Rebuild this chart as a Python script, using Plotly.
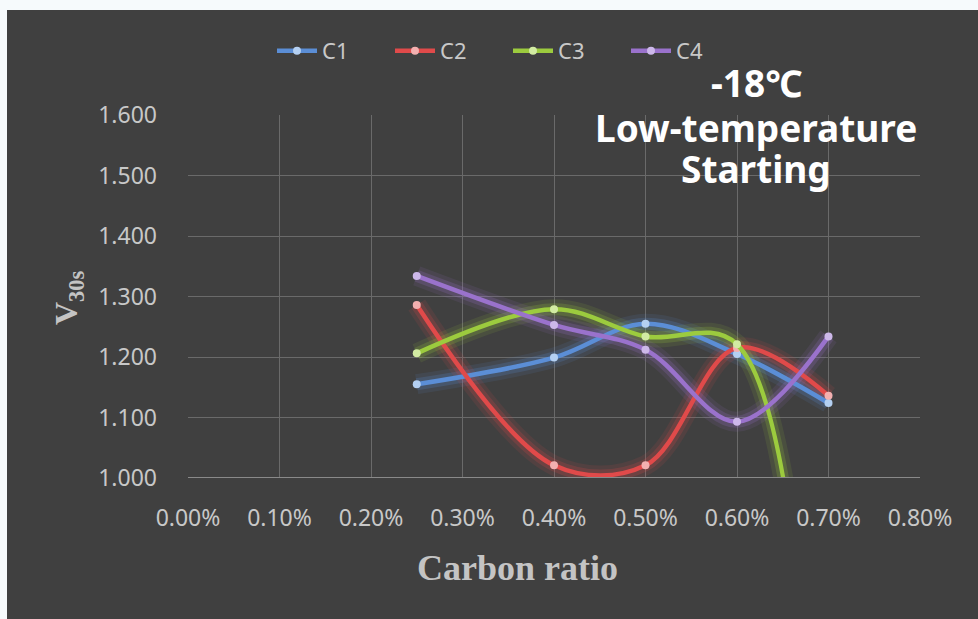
import plotly.graph_objects as go

# Carbon ratio (fraction) and 30 s voltage for each formulation
carbon_ratio = [0.0025, 0.004, 0.005, 0.006, 0.007]
c1 = [1.155, 1.199, 1.255, 1.205, 1.124]
c2 = [1.286, 1.021, 1.021, 1.215, 1.136]
c3 = [1.206, 1.279, 1.234, 1.221, 0.0]
c4 = [1.334, 1.253, 1.212, 1.093, 1.234]

series_names = ["C1", "C2", "C3", "C4"]
series_values = [c1, c2, c3, c4]
line_colors = ["#5b8ed6", "#e04a4a", "#9ccb3e", "#9a72cc"]
marker_colors = ["#b4d0f2", "#f3b0b0", "#d2eba2", "#cdb8ea"]

y_ticks = [1.0, 1.1, 1.2, 1.3, 1.4, 1.5, 1.6]
x_ticks = [0.0, 0.001, 0.002, 0.003, 0.004, 0.005, 0.006, 0.007, 0.008]

BG = "#404040"
TICK = "#c8c8c8"

# plot-area geometry in pixels (used to place paper-anchored items)
W, H = 978, 619
ML, MR, MT, MB = 188, 58, 115, 141
PW, PH = W - ML - MR, H - MT - MB


def px_x(px):
    return (px - ML) / PW


def px_y(py):
    return (H - MB - py) / PH


fig = go.Figure()

# soft glow under each line
for vals, col in zip(series_values, line_colors):
    for width, op in [(20, 0.11), (12, 0.20)]:
        fig.add_trace(go.Scatter(
            x=carbon_ratio, y=vals, mode="lines",
            line=dict(color=col, width=width, shape="spline", smoothing=1),
            opacity=op, showlegend=False, hoverinfo="skip",
        ))

for name, vals, col, mcol in zip(series_names, series_values, line_colors, marker_colors):
    fig.add_trace(go.Scatter(
        x=carbon_ratio, y=vals, name=name, mode="lines+markers",
        line=dict(color=col, width=4.5, shape="spline", smoothing=1),
        marker=dict(color=mcol, size=8, line=dict(width=0)),
        cliponaxis=True,
    ))

fig.update_layout(
    width=W, height=H,
    margin=dict(l=ML, r=MR, t=MT, b=MB),
    paper_bgcolor="#f6fafc",
    plot_bgcolor="rgba(0,0,0,0)",
    font=dict(family="Noto Sans", color=TICK),
    showlegend=True,
    legend=dict(
        orientation="h", x=px_x(272), y=px_y(51), xanchor="left", yanchor="middle",
        font=dict(size=22, color=TICK, family="Noto Sans"),
        bgcolor="rgba(0,0,0,0)", itemwidth=40, entrywidthmode="pixels", entrywidth=63,
    ),
    shapes=[dict(
        type="rect", xref="paper", yref="paper", layer="below",
        x0=px_x(7), x1=px_x(W + 2), y0=px_y(H + 2), y1=px_y(10),
        fillcolor=BG, line=dict(width=0),
    )],
)

fig.update_xaxes(
    range=[0, 0.008], tickvals=x_ticks, tickformat=".2%",
    showgrid=True, gridcolor="#6a6a6a", gridwidth=1,
    zeroline=False, showline=False, ticks="",
    tickfont=dict(size=23, color=TICK, family="Noto Sans"),
    ticklabelstandoff=24,
)
fig.update_yaxes(
    range=[1.0, 1.6], tickvals=y_ticks, tickformat=".3f",
    showgrid=True, gridcolor="#6a6a6a", gridwidth=1,
    zeroline=False, showline=False, ticks="",
    tickfont=dict(size=23, color=TICK, family="Noto Sans"),
    ticklabelstandoff=30,
)

# baseline along the bottom of the plot area
fig.add_shape(type="line", xref="paper", yref="y", x0=0, x1=1, y0=1.0, y1=1.0,
              line=dict(color="#8a8a8a", width=2), layer="above")

# axis titles
fig.add_annotation(
    x=px_x(68), y=px_y(298), xref="paper", yref="paper", showarrow=False,
    xanchor="center", yanchor="middle",
    text="<b>V<sub>30s</sub></b>", textangle=-90,
    font=dict(family="Liberation Serif", size=32, color="#c4c4c4"),
)
fig.add_annotation(
    x=px_x(517), y=px_y(568), xref="paper", yref="paper", showarrow=False,
    xanchor="center", yanchor="middle",
    text="<b>Carbon ratio</b>",
    font=dict(family="Liberation Serif", size=36, color="#c4c4c4"),
)

# condition label
for txt, py in [("-18℃", 82), ("Low-temperature", 127), ("Starting", 169)]:
    fig.add_annotation(
        x=px_x(756), y=px_y(py), xref="paper", yref="paper", showarrow=False,
        text=f"<b>{txt}</b>", xanchor="center", yanchor="middle",
        font=dict(family="Noto Sans", size=37, color="#ffffff"),
    )

fig.write_html("out.html")
